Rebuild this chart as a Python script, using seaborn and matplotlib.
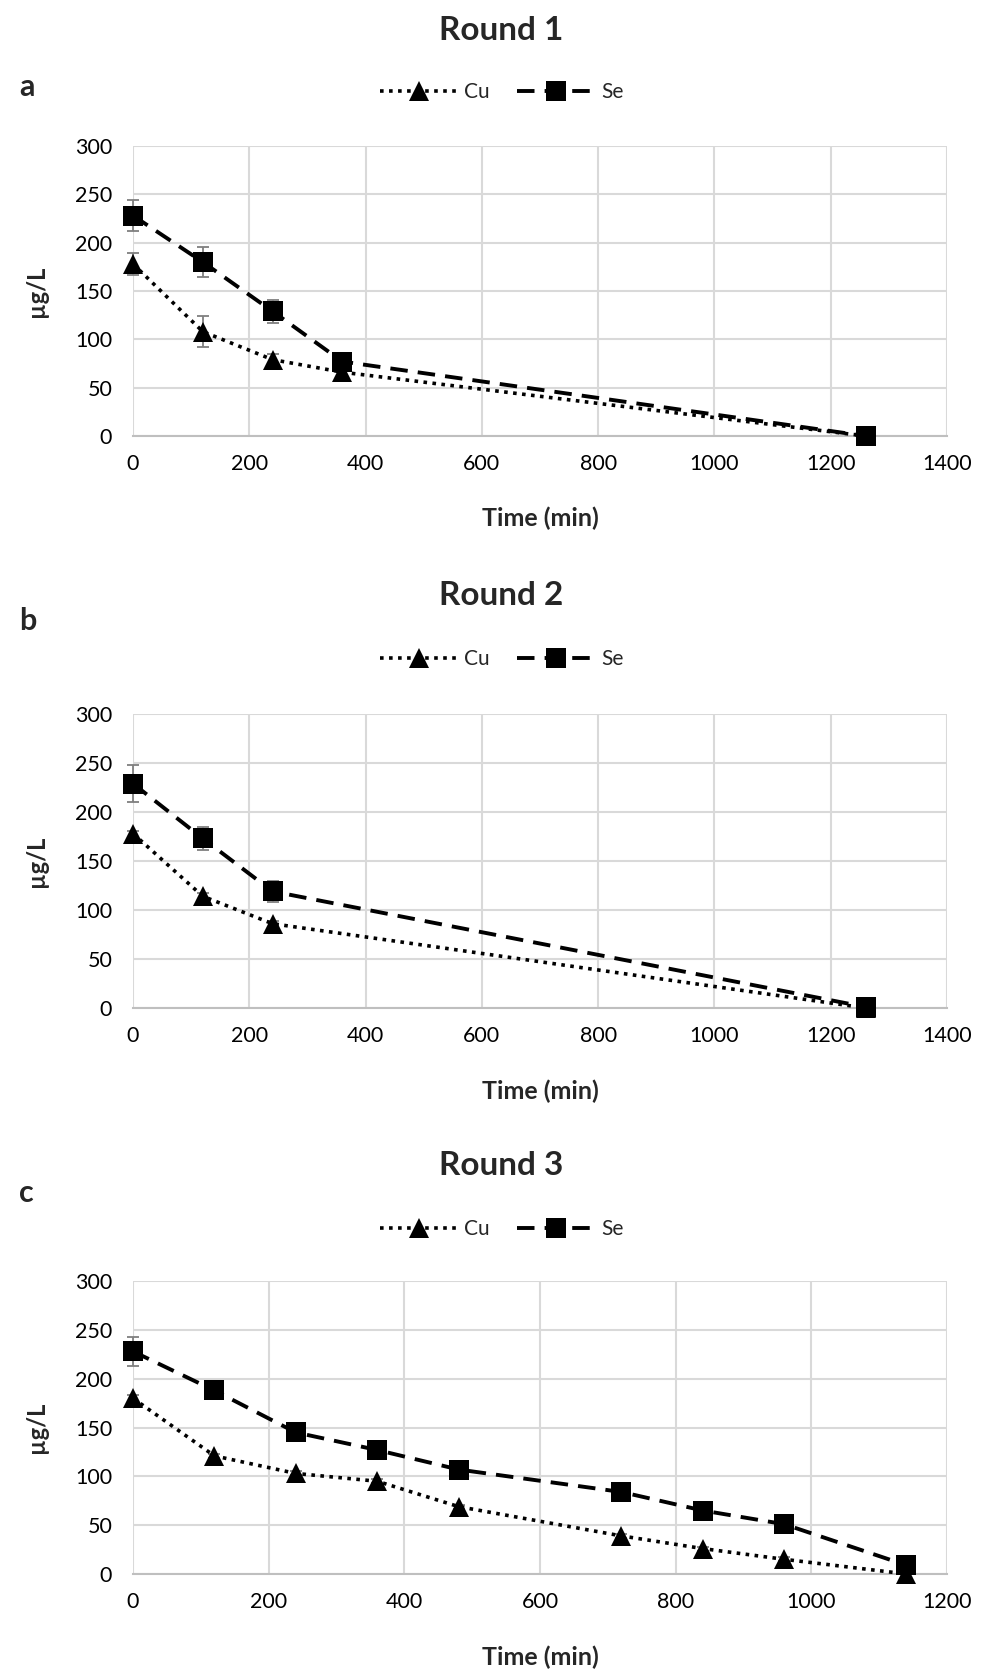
import matplotlib
matplotlib.use("Agg")
import matplotlib.pyplot as plt
import seaborn as sns
import numpy as np

# Round 1
r1_time = [0, 120, 240, 360, 1260]
r1_cu = [178, 108, 79, 66, 0]
r1_cu_err = [11, 16, 6, 3, 0]
r1_se = [228, 180, 129, 77, 0]
r1_se_err = [16, 16, 12, 4, 0]

# Round 2
r2_time = [0, 120, 240, 1260]
r2_cu = [178, 114, 86, 0]
r2_cu_err = [3, 3, 3, 0]
r2_se = [229, 173, 119, 1]
r2_se_err = [19, 12, 11, 0]

# Round 3
r3_time = [0, 120, 240, 360, 480, 720, 840, 960, 1140]
r3_cu = [180, 121, 103, 95, 69, 39, 26, 15, 0]
r3_cu_err = [3, 2, 2, 2, 2, 2, 2, 2, 0]
r3_se = [228, 188, 145, 127, 107, 84, 65, 51, 9]
r3_se_err = [15, 3, 3, 3, 3, 3, 3, 3, 0]

titles = ["Round 1", "Round 2", "Round 3"]
letters = ["a", "b", "c"]
x_limits = [1400, 1400, 1200]
y_ticks = [0, 50, 100, 150, 200, 250, 300]

sns.set_theme(style="white")
plt.rcParams["font.family"] = ["Lato", "DejaVu Sans"]

fig = plt.figure(figsize=(9.89, 16.73), dpi=100)

# axes rectangles [left, bottom, width, height]
rects = [
    [0.1345, 0.7394, 0.823, 0.1733],
    [0.1345, 0.3975, 0.823, 0.1757],
    [0.1345, 0.0592, 0.823, 0.1750],
]
title_y = [0.982, 0.644, 0.3036]
legend_y = [0.945, 0.606, 0.2654]
letter_y = [0.948, 0.629, 0.287]

rounds = [
    (r1_time, r1_cu, r1_cu_err, r1_se, r1_se_err),
    (r2_time, r2_cu, r2_cu_err, r2_se, r2_se_err),
    (r3_time, r3_cu, r3_cu_err, r3_se, r3_se_err),
]

grid_color = "#d9d9d9"
err_color = "#7f7f7f"

for i, (t, cu, cu_err, se, se_err) in enumerate(rounds):
    ax = fig.add_axes(rects[i])

    # error bars underneath the markers
    ax.errorbar(t, cu, yerr=cu_err, fmt="none", ecolor=err_color,
                elinewidth=1.3, capsize=4, capthick=1.3, zorder=3, clip_on=False)
    ax.errorbar(t, se, yerr=se_err, fmt="none", ecolor=err_color,
                elinewidth=1.3, capsize=4, capthick=1.3, zorder=3, clip_on=False)

    sns.lineplot(x=t, y=cu, ax=ax, color="black", linestyle=(0, (1, 1.5)),
                 linewidth=2.6, marker="^", markersize=14, markeredgewidth=0,
                 label="Cu", zorder=4, clip_on=False)
    sns.lineplot(x=t, y=se, ax=ax, color="black", linestyle=(0, (4.5, 2.6)),
                 linewidth=2.8, marker="s", markersize=14, markeredgewidth=0,
                 label="Se", zorder=5, clip_on=False)

    ax.set_xlim(0, x_limits[i])
    ax.set_ylim(0, 300)
    ax.set_xticks(np.arange(0, x_limits[i] + 1, 200))
    ax.set_yticks(y_ticks)
    ax.tick_params(axis="both", length=0, labelsize=15.5, labelcolor="black")
    ax.tick_params(axis="y", pad=15)
    ax.tick_params(axis="x", pad=13)

    ax.grid(True, color=grid_color, linewidth=1.5)
    ax.set_axisbelow(True)
    for side in ["top", "right", "left"]:
        ax.spines[side].set_visible(False)
    ax.spines["bottom"].set_color("#bfbfbf")
    ax.spines["bottom"].set_linewidth(1.5)
    ax.spines["bottom"].set_zorder(2)

    ax.set_xlabel("Time (min)", fontsize=18, fontweight="bold")
    ax.xaxis.set_label_coords(0.5, -0.245)
    ax.set_ylabel("µg/L", fontsize=17, fontweight="bold")
    ax.yaxis.set_label_coords(-0.105, 0.5)

    handles, labels = ax.get_legend_handles_labels()
    if ax.legend_:
        ax.legend_.remove()
    fig.legend(handles, labels, loc="center", bbox_to_anchor=(0.507, legend_y[i]),
               ncol=2, frameon=False, fontsize=15, handlelength=3.8,
               columnspacing=1.3, handletextpad=0.25, numpoints=1)

    fig.text(0.507, title_y[i], titles[i], ha="center", va="center",
             fontsize=24, fontweight="bold")
    fig.text(0.019, letter_y[i], letters[i], ha="left", va="center",
             fontsize=22, fontweight="bold")

fig.savefig("out.png", dpi=100)
